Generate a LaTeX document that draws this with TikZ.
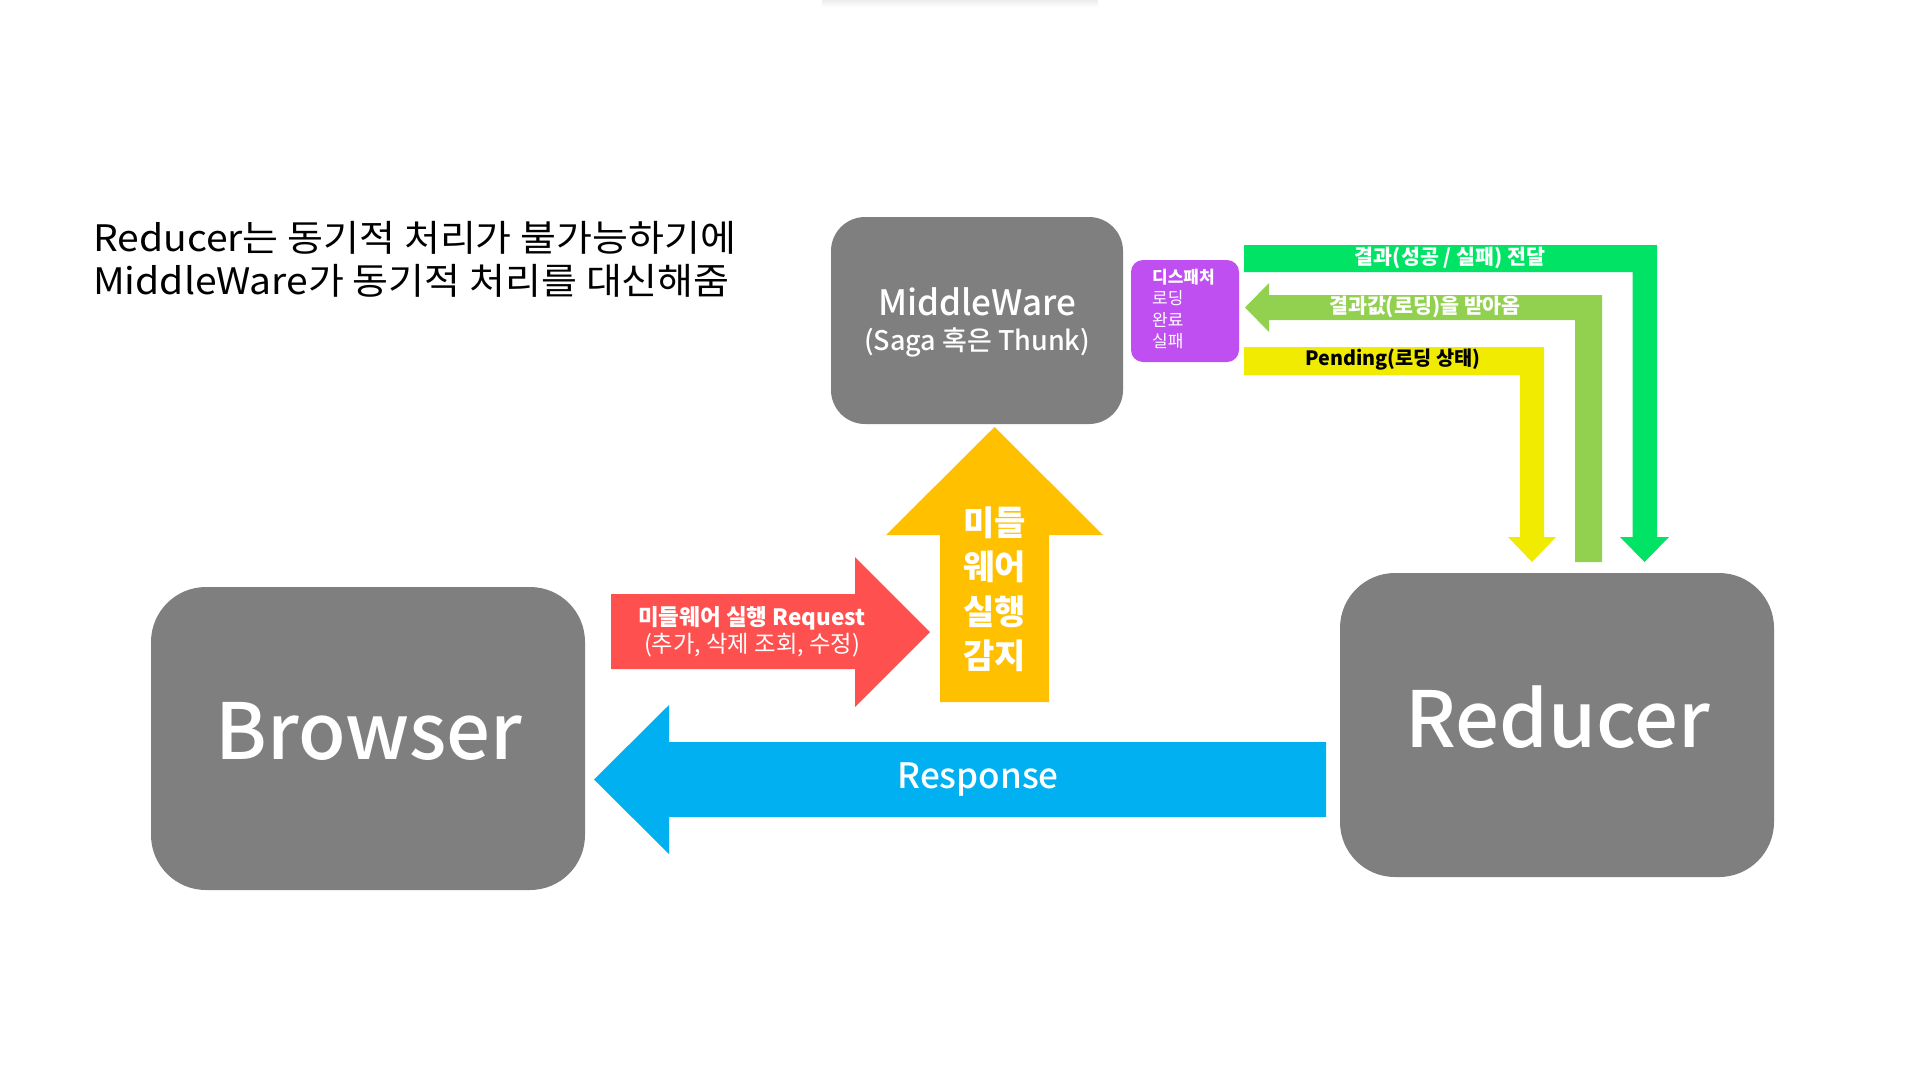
\documentclass[tikz,border=0pt]{standalone}
\usepackage{fontspec}
\setmainfont{Noto Sans CJK KR}
\newfontfamily\titlefont[FakeStretch=1.07]{Noto Sans CJK KR}
\newfontfamily\medfont{Noto Sans CJK KR Medium}
\definecolor{boxgray}{HTML}{7F7F7F}
\definecolor{dpurple}{HTML}{BF4FF0}
\definecolor{bgreen}{HTML}{00E364}
\definecolor{lgreen}{HTML}{92D050}
\definecolor{pyellow}{HTML}{F0EB00}
\definecolor{rred}{HTML}{FF5050}
\definecolor{oyellow}{HTML}{FFC000}
\definecolor{rblue}{HTML}{00B0F0}
\begin{document}
\begin{tikzpicture}[x=1pt,y=-1pt,
  graybox/.style={fill=boxgray, draw=none, inner sep=0pt, outer sep=0pt},
  wtext/.style={text=white, inner sep=0pt, align=center},
  btext/.style={text=black, inner sep=0pt, align=center}]
\useasboundingbox (0,0) rectangle (1920,1080);
\fill[white] (0,0) rectangle (1920,1080);
% faint top shadow
\shade[top color=black!7, bottom color=white] (822,0) rectangle (1098,7);

% title
\node[anchor=base west, inner sep=0pt] (title1) at (93,251) {\titlefont\fontsize{36.5}{40}\selectfont Reducer는 동기적 처리가 불가능하기에};
\node[anchor=base west, inner sep=0pt] (title2) at (93,294) {\titlefont\fontsize{36.5}{40}\selectfont MiddleWare가 동기적 처리를 대신해줌};

% boxes
\node[graybox, rounded corners=55pt, minimum width=434pt, minimum height=303pt] (browser) at (368,738.5) {};
\node[wtext] (browsertxt) at (369,731) {\medfont\fontsize{77.5}{90}\selectfont Browser};
\node[graybox, rounded corners=55pt, minimum width=434pt, minimum height=304pt] (reducer) at (1557,725) {};
\node[wtext] (reducertxt) at (1558,717) {\medfont\fontsize{77.5}{90}\selectfont Reducer};
\node[graybox, rounded corners=34pt, minimum width=292pt, minimum height=207pt] (mw) at (977,320.5) {};
\node[wtext] (mwtxt1) at (977,302) {\medfont\fontsize{35}{40}\selectfont MiddleWare};
\node[wtext] (mwtxt2) at (977,342) {\medfont\fontsize{27}{32}\selectfont (Saga 혹은 Thunk)};

% dispatcher box
\node[fill=dpurple, rounded corners=12pt, inner sep=0pt, minimum width=108pt, minimum height=102pt] (disp) at (1185,311) {};
\node[anchor=west, text=white, inner sep=0pt] (d1) at (1152,277) {\fontsize{17}{20}\selectfont\bfseries 디스패처};
\node[anchor=west, text=white, inner sep=0pt] (d2) at (1152,298.5) {\fontsize{17}{20}\selectfont 로딩};
\node[anchor=west, text=white, inner sep=0pt] (d3) at (1152,320) {\fontsize{17}{20}\selectfont 완료};
\node[anchor=west, text=white, inner sep=0pt] (d4) at (1152,341.5) {\fontsize{17}{20}\selectfont 실패};

% green L arrow
\fill[bgreen] (1244,245) -- (1657,245) -- (1657,537) -- (1669,537) -- (1644.5,562) -- (1620,537) -- (1632.5,537) -- (1632.5,272) -- (1244,272) -- cycle;
\node[wtext] (g1) at (1450,258) {\fontsize{20.6}{24}\selectfont\bfseries 결과(성공 / 실패) 전달};
% light green arrow
\fill[lgreen] (1245,307.5) -- (1269,283) -- (1269,295) -- (1602,295) -- (1602,562) -- (1575,562) -- (1575,320) -- (1269,320) -- (1269,332) -- cycle;
\node[wtext] (g2) at (1425,307) {\fontsize{20.6}{24}\selectfont\bfseries 결과값(로딩)을 받아옴};
% yellow arrow
\fill[pyellow] (1244,347) -- (1544,347) -- (1544,537) -- (1556,537) -- (1532,562) -- (1508,537) -- (1520,537) -- (1520,375) -- (1244,375) -- cycle;
\node[btext] (y1) at (1393,360) {\fontsize{19.7}{23}\selectfont\bfseries Pending(로딩 상태)};

% red arrow
\fill[rred] (611,594) -- (855,594) -- (855,557) -- (930,632) -- (855,707) -- (855,669) -- (611,669) -- cycle;
\node[wtext] (r1) at (752,618) {\fontsize{22.5}{26}\selectfont\bfseries 미들웨어 실행 Request};
\node[wtext] (r2) at (752,645) {\fontsize{23.3}{26}\selectfont (추가, 삭제 조회, 수정)};

% orange arrow
\fill[oyellow] (940,702) -- (940,535) -- (886,535) -- (994.5,427) -- (1103,535) -- (1049,535) -- (1049,702) -- cycle;
\node[wtext] (o1) at (994.5,523) {\fontsize{34}{44}\selectfont\bfseries 미들};
\node[wtext] (o2) at (994.5,567) {\fontsize{34}{44}\selectfont\bfseries 웨어};
\node[wtext] (o3) at (994.5,612) {\fontsize{34}{44}\selectfont\bfseries 실행};
\node[wtext] (o4) at (994.5,656) {\fontsize{34}{44}\selectfont\bfseries 감지};

% blue arrow
\fill[rblue] (1326,742) -- (669,742) -- (669,705) -- (594,779.5) -- (669,854) -- (669,817) -- (1326,817) -- cycle;
\node[wtext] (resp) at (978,779) {\medfont\fontsize{35}{40}\selectfont Response};
\end{tikzpicture}
\end{document}
